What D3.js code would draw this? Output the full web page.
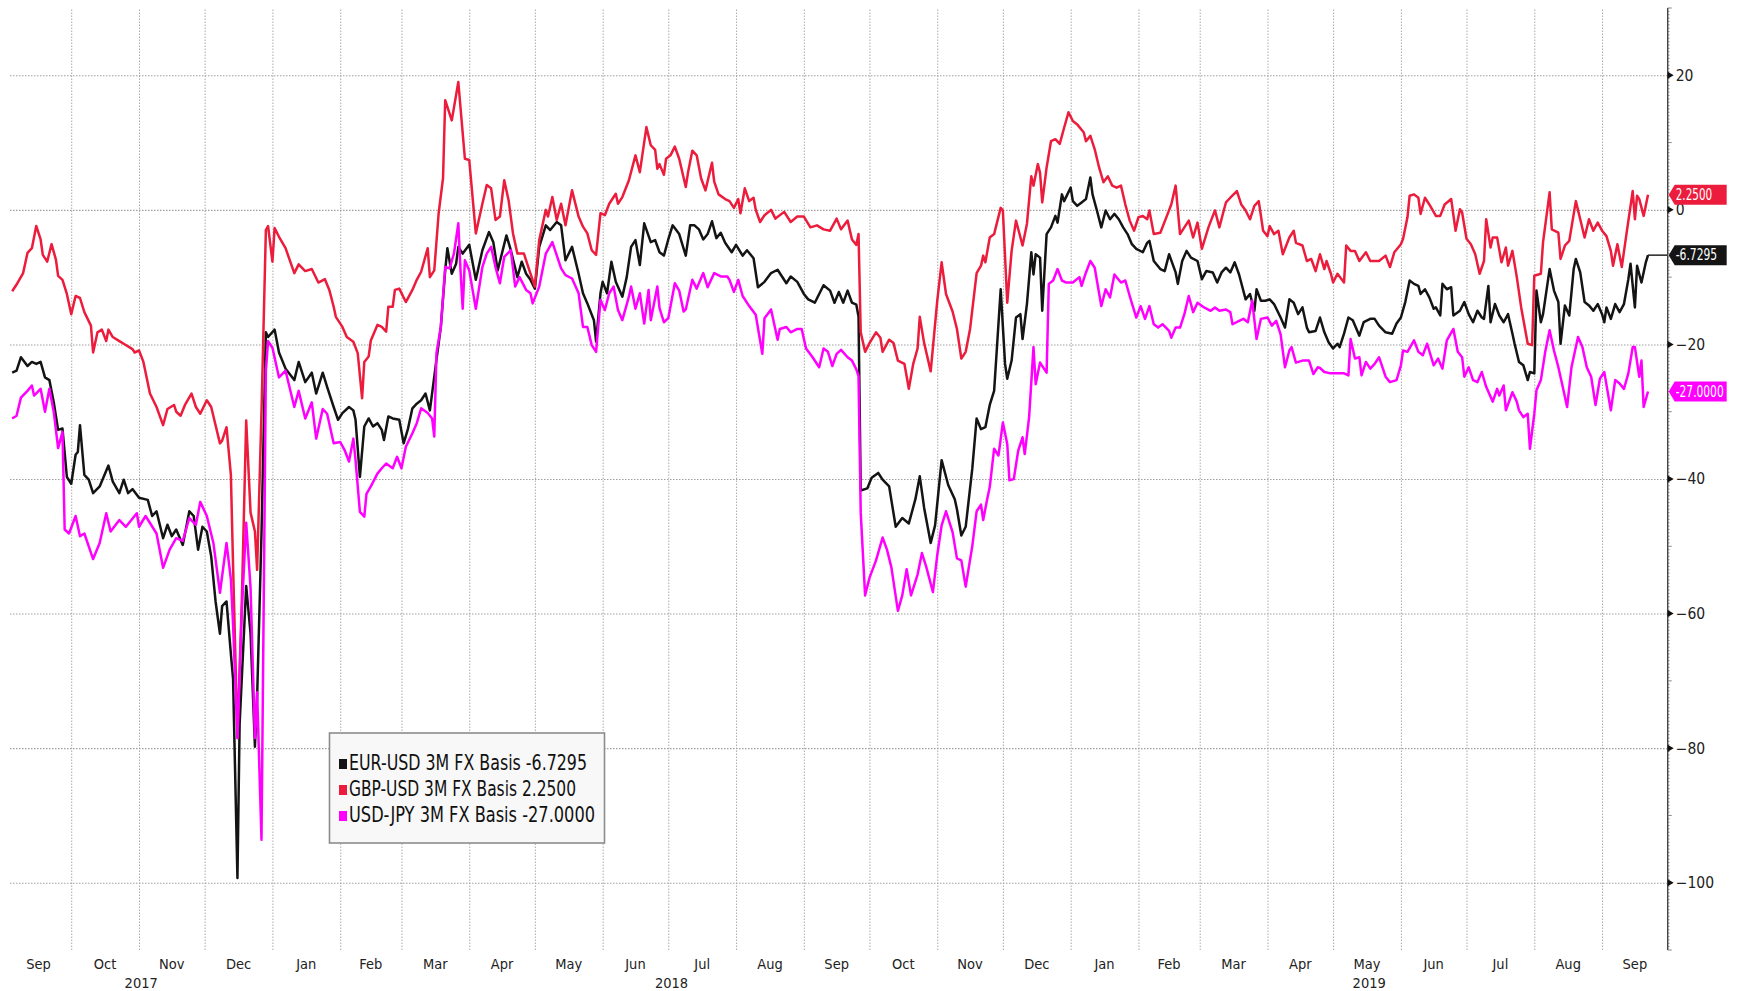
<!DOCTYPE html>
<html><head><meta charset="utf-8">
<script src="https://cdn.jsdelivr.net/npm/d3@7"></script>
<style>
html,body{margin:0;padding:0;background:#fff;}
svg{display:block;}
text{font-family:"Liberation Sans Narrow","DejaVu Sans Condensed","Arial Narrow","Roboto Condensed",sans-serif;}
</style></head><body>
<svg id="chart" width="1739" height="991"></svg>
<script>
// x values: days after startDate
const startDate = "2017-09-03";
const endDate = "2019-10-01";
const eurUsd = [[1,-24.2],[3,-23.9],[5,-21.9],[8,-23.2],[10,-22.6],[12,-22.9],[14,-22.6],[16,-24.9],[18,-25.3],[20,-28.6],[22,-32.7],[24,-32.5],[26,-39.7],[28,-40.7],[30,-36.4],[31,-36],[32,-32],[34,-39.4],[36,-40.1],[38,-42.1],[41,-41.1],[45,-38],[47,-40.4],[50,-42.1],[52,-40.1],[54,-42.1],[56,-41.5],[59,-42.8],[63,-43.1],[65,-45.5],[67,-44.8],[70,-48.8],[72,-46.8],[74,-48.5],[76,-47.5],[79,-49.8],[82,-44.8],[84,-45.5],[86,-50.5],[88,-47.1],[90,-47.8],[92,-51.5],[94,-58.2],[96,-63],[97,-58.9],[99,-58.2],[101,-66],[102,-69.7],[104,-99.3],[105,-76.4],[108,-55.9],[110,-63],[112,-79.8],[113,-72.4],[115,-48.1],[117,-18.2],[118,-18.9],[121,-17.8],[123,-21.2],[126,-23.6],[130,-25.3],[132,-22.6],[135,-25.6],[138,-24.2],[140,-27.3],[143,-24.2],[145,-26.3],
[148,-29.3],[150,-31.2],[152,-30.2],[155,-29.3],[157,-29.8],[158,-31.2],[160,-39.7],[162,-32.2],[164,-31],[166,-32.2],[168,-31.7],[170,-32.7],[171,-34.2],[173,-30.7],[175,-31],[178,-31.2],[180,-34.7],[182,-32.5],[184,-29.5],[186,-28.8],[188,-28.3],[190,-27.3],[192,-29.8],[195,-22.3],[197,-17.4],[199,-9],[200,-5.7],[202,-9.5],[204,-8],[205,-5.5],[207,-6.5],[210,-5.2],[213,-10.4],[216,-6],[219,-3.3],[221,-4.8],[223,-9],[227,-3.8],[229,-6],[232,-10],[234,-7.7],[236,-9.5],[238,-10.4],[240,-11.7],[242,-5.5],[245,-2.3],[247,-3],[250,-1.8],[252,-2.3],[254,-7.5],[257,-5.5],[260,-9.5],[262,-12.4],[264,-13.9],[267,-16.4],[268,-19.6],[270,-12.4],[271,-10.7],[273,-12.4],[275,-7.7],[277,-10.7],[280,-12.9],[282,-10],[284,-5.5],[286,-4.5],[288,-8.2],[290,-2],[293,-4.8],[295,-4.5],
[297,-6.3],[299,-6.8],[301,-4.4],[303,-2.3],[306,-3.6],[309,-6.8],[311,-2.3],[313,-2.3],[315,-2.9],[317,-4.4],[319,-3.6],[321,-1.7],[323,-4.2],[325,-3.4],[327,-4.9],[330,-6.3],[332,-5.2],[335,-6.8],[337,-6],[340,-7.2],[342,-11.5],[345,-10.7],[348,-9.4],[351,-8.9],[355,-10.9],[357,-9.9],[360,-10.7],[363,-12.5],[365,-13.3],[368,-13.8],[370,-12.5],[372,-11.2],[375,-12],[377,-13.8],[379,-12.2],[381,-13.8],[383,-12],[385,-13.8],[387,-14.1],[388,-15.9],[389,-41.7],[392,-41.4],[394,-39.8],[397,-39.1],[399,-40.1],[402,-41.1],[405,-47.1],[408,-45.8],[411,-46.6],[414,-43],[416,-39.6],[418,-44.3],[421,-49.5],[423,-46.9],[426,-37.2],[429,-40.9],[432,-43],[433,-44.5],[435,-48.4],[437,-47.1],[440,-38.5],[442,-31],[444,-32.6],[446,-32.3],
[448,-29],[450,-26.9],[451,-21.9],[453,-11.8],[455,-22.9],[456,-25.1],[458,-22.4],[460,-16],[462,-15.5],[463,-19.2],[465,-14],[467,-6.3],[468,-9.6],[469,-6.6],[471,-7.1],[472,-15],[474,-3.6],[476,-2.6],[478,-0.9],[479,-1.9],[481,2.3],[482,1.3],[485,3.3],[486,1.3],[488,0.6],[490,1.1],[492,1.6],[494,4.8],[495,2.3],[497,-0.1],[499,-2.6],[501,-0.1],[503,-1.4],[505,-0.6],[507,-1.4],[509,-2.6],[511,-3.6],[513,-5.1],[515,-5.8],[518,-6.3],[520,-4.9],[521,-4.6],[523,-7.6],[526,-8.8],[528,-9.1],[530,-6.6],[533,-9.3],[534,-11],[536,-7.6],[538,-6.1],[540,-7.1],[543,-7.6],[545,-10.3],[547,-9.1],[550,-9.3],[552,-10.8],[554,-9.3],[556,-8.6],[558,-9.3],[560,-7.8],[562,-9.6],[565,-13.3],[567,-12.5],[569,-15],[570,-11.8],[572,-13.5],[574,-13.5],[576,-13.3],[578,-14],[581,-16],[583,-17.5],[585,-13.3],[587,-13.8],[589,-15.5],[591,-14.5],[593,-17.5],[594,-18.2],[597,-18],[599,-16],
[601,-18.2],[603,-19.7],[605,-20.6],[607,-19.9],[608,-20.4],[610,-18.4],[612,-16],[614,-16.4],[617,-18.7],[619,-16.7],[622,-16.2],[624,-16.2],[626,-17.2],[629,-18.2],[632,-18.4],[634,-16.9],[636,-16],[638,-13.7],[640,-10.5],[642,-11],[644,-11.3],[645,-12.5],[647,-11.8],[649,-13],[651,-14.7],[652,-14.5],[654,-15.7],[655,-11],[657,-11.8],[659,-11.5],[660,-15.7],[663,-15],[665,-13.7],[667,-15.5],[669,-16.7],[671,-15],[673,-16],[674,-16.2],[676,-11.3],[677,-16.7],[679,-14],[681,-15.7],[683,-16.7],[685,-15.5],[687,-18.4],[688,-19.9],[690,-22.6],[692,-23.1],[694,-25.3],[695,-24.1],[697,-24.3],[698,-12],[700,-16.7],[701,-15.5],[704,-8.8],[706,-12],[708,-13.7],[709,-19.9],[711,-14.2],[713,-15.7],[715,-8.8],[716,-7.3],[718,-9.3],[720,-13.7],[722,-14.2],[724,-15],[726,-14],[728,-15.5],[729,-16.7],[730,-14.5],[732,-16.2],[734,-14],[736,-15.2],[738,-14],[740,-10.3],[741,-8],[743,-14.5],[744,-8.3],[746,-10.8],[748,-7.8],[749,-6.7295]];

const gbpUsd = [[1,-12.1],[3,-11.1],[6,-9.4],[8,-6.4],[10,-5.7],[12,-2.4],[14,-4.4],[15,-6.7],[17,-7.7],[19,-5.1],[21,-7.4],[22,-9.8],[24,-10.4],[26,-12.5],[28,-15.5],[30,-12.8],[32,-13.1],[34,-15.2],[37,-17.2],[38,-21.2],[40,-18.2],[42,-17.8],[44,-19.5],[45,-17.8],[47,-18.9],[50,-19.5],[52,-19.9],[56,-20.7],[57,-21.2],[59,-20.9],[61,-22.6],[64,-27.3],[67,-29.3],[70,-32],[72,-29.6],[75,-29],[76,-30],[78,-30.6],[80,-29],[83,-27.3],[85,-29.3],[87,-30.3],[90,-28.3],[92,-29.3],[94,-32],[96,-34.7],[97,-34.3],[99,-32.3],[101,-39.4],[102,-52.9],[104,-78.5],[106,-58.2],[108,-31.3],[110,-45],[112,-47.8],[113,-53.5],[115,-30],[117,-3],[118,-2.4],[120,-7.7],[121,-2.7],[123,-4],[126,-5.7],[130,-9.4],[132,-8.1],[135,-9.1],[138,-8.8],[141,-10.8],[144,-10.3],[146,-11.9],
[148,-14.4],[149,-15.9],[152,-17.4],[154,-18.9],[157,-19.6],[159,-21.3],[161,-28],[162,-22.6],[164,-21.8],[165,-19.4],[168,-17.1],[170,-17.4],[172,-18.1],[173,-14.4],[175,-14.4],[176,-11.9],[178,-11.7],[181,-13.7],[184,-11.9],[186,-10.4],[188,-9.2],[191,-5.7],[192,-10],[194,-9],[196,-0.5],[198,4.7],[199,16.3],[202,13.3],[205,19],[208,7.6],[210,7.4],[213,-3.5],[216,0.9],[218,3.7],[220,3.2],[222,-1.5],[224,-1],[226,4.4],[228,1.4],[230,-3.5],[232,-6.5],[235,-6.5],[237,-8.5],[240,-11.4],[242,-4.5],[245,0],[246,-1],[248,1.9],[250,-1.5],[252,0.9],[254,-2.3],[257,2.9],[260,-1],[262,-2.5],[264,-3.5],[266,-6],[268,-6.7],[270,-0.5],[272,-0.8],[274,0.9],[277,2.4],[278,0.9],[280,1.9],[283,4.4],[286,8.1],[288,5.6],[291,12.3],[293,9.6],[295,8.9],[296,6.1],
[297,6.8],[299,5.2],[300,7.6],[302,8.1],[304,9.4],[306,7.6],[309,3.4],[310,5.5],[312,8.8],[314,8.1],[316,4.7],[318,2.9],[321,7],[322,4.2],[324,2.3],[327,1.6],[329,1.3],[331,0.3],[333,1.6],[334,-0.5],[336,3.2],[338,1.3],[340,1.8],[341,0],[343,-1.8],[345,-0.8],[348,0],[350,-1.3],[354,-0.3],[357,-1.8],[360,-1],[363,-1],[366,-2.6],[369,-2.3],[372,-2.9],[375,-3.1],[378,-1.3],[380,-2.9],[383,-1.6],[385,-4.4],[387,-5.2],[388,-3.6],[389,-18.2],[391,-21.1],[393,-19.8],[396,-18.2],[398,-19],[399,-21.1],[402,-19.3],[404,-19.8],[406,-22.4],[409,-22.9],[411,-26.6],[413,-22.9],[415,-20.6],[416,-15.9],[418,-19.8],[421,-24],[424,-13.5],[426,-7.8],[428,-12.5],[431,-15.1],[433,-17.7],[435,-22.1],[437,-21.1],[439,-17.7],[442,-9.4],[444,-8.3],[445,-6.8],[446,-7.8],
[448,-4.1],[450,-3.6],[453,0.3],[454,-0.1],[456,-13.8],[458,-6.1],[460,-1.6],[463,-5.3],[465,-2.1],[467,5],[468,3.6],[470,6.8],[471,5.5],[472,1.1],[474,6.3],[476,10.2],[478,10.5],[480,9.8],[482,12.2],[484,14.5],[486,13.2],[488,12.7],[491,11.5],[492,10.2],[494,11],[496,9],[498,6.3],[500,4.1],[502,5],[504,3.6],[506,3.3],[508,3.6],[510,0.8],[512,-1.6],[514,-3.1],[516,-1.1],[518,-0.9],[520,-1.4],[521,-0.1],[523,-3.6],[526,-3.4],[529,-0.9],[531,0.8],[533,3.6],[535,-3.6],[537,-2.6],[539,-1.6],[541,-4.1],[543,-1.9],[545,-5.8],[548,-2.6],[550,-0.9],[551,-0.1],[553,-2.6],[555,-0.1],[556,1.1],[558,1.8],[561,2.8],[563,0.8],[565,-0.1],[567,-1.4],[569,0.6],[571,1.3],[573,-3.1],[575,-3.9],[576,-2.4],[578,-3.6],[580,-3.1],[582,-6.6],[585,-4.1],[587,-3.1],[588,-4.9],[591,-5.3],[593,-7.6],[595,-7.3],[597,-9.1],
[599,-6.6],[601,-8.8],[602,-7.6],[604,-9.5],[605,-10.8],[607,-9.5],[610,-10.8],[611,-5.3],[613,-6.1],[615,-6.1],[617,-7.6],[620,-6.3],[622,-7.6],[624,-7.6],[626,-7.6],[629,-6.8],[631,-8.5],[633,-6.3],[636,-5.1],[637,-4.3],[639,-1.1],[640,2.1],[642,2.3],[644,1.8],[645,-0.6],[647,1.8],[649,0.8],[652,-0.9],[654,-0.9],[656,0.8],[659,1.6],[661,-3.1],[663,0.1],[664,-0.4],[666,-4.3],[668,-5.1],[670,-6.6],[672,-9.5],[674,-7.6],[675,-1.4],[677,-5.6],[678,-4.1],[680,-4.1],[682,-7.8],[684,-5.6],[685,-8.3],[687,-6.1],[689,-10],[691,-14.5],[694,-19.9],[696,-20.1],[697,-9.8],[700,-9.5],[701,-4.8],[704,2.6],[705,-2.9],[708,-3.4],[709,-7.3],[711,-5.3],[713,-4.6],[716,1.3],[718,-1.4],[720,-4.1],[722,-1.4],[724,-3.1],[726,-1.9],[728,-3.1],[730,-3.9],[732,-6.1],[733,-8.3],[735,-5.1],[737,-8.5],[739,-3.9],[742,2.8],[743,-1.4],[744,2.1],[745,1.6],[747,-0.9],[749,2.25]];

const usdJpy = [[1,-31],[3,-30.6],[5,-27.9],[8,-26.9],[10,-26.1],[11,-27.6],[14,-26.6],[16,-30],[18,-26.6],[20,-30],[22,-35.4],[24,-33],[25,-47.5],[27,-48.1],[30,-45.5],[32,-48.5],[34,-48.1],[38,-51.9],[41,-49.5],[44,-45.1],[46,-47.8],[50,-46.1],[53,-47.1],[58,-45.1],[59,-47.1],[62,-45.5],[67,-48.1],[70,-53.2],[73,-50.5],[76,-48.8],[79,-49.2],[82,-45.8],[85,-46.8],[87,-43.4],[90,-45.5],[93,-49.5],[96,-56.9],[99,-49.5],[101,-54.9],[102,-61.6],[104,-78.5],[106,-59.6],[108,-46.5],[110,-56.2],[112,-78.5],[113,-71.7],[115,-93.6],[117,-23.9],[118,-19.5],[120,-20.5],[123,-24.9],[126,-23.9],[130,-29.3],[132,-26.9],[135,-31],[138,-28.6],[140,-34],[143,-29.6],[145,-30.3],
[148,-34.7],[151,-34.5],[153,-35.7],[155,-37.4],[157,-34],[158,-37.2],[160,-44.9],[162,-45.6],[163,-42.2],[165,-41.1],[168,-39.2],[170,-38.4],[172,-37.7],[175,-38.4],[177,-36.7],[179,-38.4],[181,-35.2],[184,-33.2],[186,-31.7],[188,-29.5],[191,-30.2],[193,-31],[194,-33.7],[195,-21.3],[197,-17.4],[199,-8.5],[201,-8.7],[203,-6.5],[205,-2],[206,-9],[207,-14.7],[208,-7.5],[210,-9],[213,-14.7],[216,-8.5],[218,-6.5],[220,-5.5],[222,-8.5],[224,-10.9],[226,-7],[229,-6],[231,-11.4],[233,-10],[236,-11.9],[238,-12.4],[239,-13.9],[242,-11.4],[245,-6.5],[248,-4.8],[252,-8.7],[254,-9.7],[257,-10.2],[260,-12.4],[262,-17.4],[264,-17.4],[266,-20.1],[268,-21.1],[270,-13.4],[272,-14.9],[274,-12.4],[276,-11.4],[278,-14.9],[280,-16.4],[283,-12.9],[284,-11.4],[286,-14.7],[288,-12.4],[290,-16.9],[292,-11.9],[293,-16.4],[296,-11.4],
[297,-14.6],[299,-16.7],[301,-16.1],[304,-10.9],[306,-12],[308,-15.1],[309,-14.8],[312,-10.4],[314,-11.7],[317,-9.4],[319,-11.5],[322,-9.4],[325,-9.9],[328,-9.9],[329,-10.4],[331,-12.2],[333,-10.4],[335,-12.8],[338,-14.3],[341,-15.6],[344,-21.4],[345,-16.1],[348,-14.8],[351,-19.3],[352,-17.7],[355,-17.4],[357,-18.2],[360,-17.7],[362,-17.7],[364,-20.6],[367,-21.9],[370,-23.4],[372,-20.6],[374,-21.1],[376,-23.2],[378,-21.4],[380,-20.8],[383,-21.9],[385,-22.4],[387,-23.7],[388,-24.7],[389,-45],[391,-57.3],[393,-54.7],[396,-52.1],[399,-48.7],[401,-50.5],[403,-53.1],[406,-59.6],[408,-57.3],[410,-53.4],[412,-57.3],[415,-54.2],[417,-51],[419,-53.1],[422,-56.8],[424,-51.3],[426,-46.9],[428,-44.8],[431,-47.9],[433,-51.8],[435,-52.1],[437,-56],[440,-50],[442,-44.8],[444,-43.8],[445,-46.1],[447,-42.7],
[448,-41.2],[450,-35.5],[452,-36.5],[454,-31.6],[456,-34.8],[457,-40.2],[459,-40],[461,-35.8],[463,-33.8],[464,-36.3],[466,-30.8],[468,-20.4],[469,-25.9],[471,-22.7],[474,-24.2],[475,-11],[477,-10.5],[479,-8.8],[481,-10.5],[483,-10.8],[486,-10.8],[489,-10],[490,-11.3],[492,-9.3],[494,-7.6],[496,-8.6],[497,-10.5],[499,-14.3],[501,-11.8],[503,-13],[505,-9.6],[508,-10.8],[510,-10.5],[512,-12.8],[515,-16],[517,-14.3],[519,-16.2],[521,-14.3],[523,-17],[525,-17.5],[527,-17],[530,-18],[531,-19],[533,-17.5],[535,-17.5],[537,-15.5],[539,-12.8],[541,-15.2],[543,-13.8],[546,-14.5],[549,-15],[551,-14.5],[553,-15],[556,-14.8],[558,-15.2],[559,-17],[562,-16.5],[564,-16.2],[566,-16.7],[568,-13.5],[570,-19.2],[572,-16.2],[575,-16],[577,-17.2],[579,-16.5],[581,-18.5],[583,-23.4],[585,-20.9],[586,-20.4],[588,-22.7],[591,-22.4],[594,-22.4],[596,-24.4],[598,-23.4],[599,-23.5],
[601,-24.1],[604,-24.3],[607,-24.3],[610,-24.3],[612,-24.6],[613,-19.2],[615,-22.1],[617,-21.9],[618,-24.6],[620,-22.6],[622,-23.6],[624,-22.9],[626,-21.9],[629,-24.8],[631,-25.6],[634,-25.3],[636,-23.1],[637,-20.9],[639,-21.1],[642,-19.4],[644,-21.1],[646,-21.6],[648,-19.9],[651,-23.1],[653,-22.1],[655,-23.6],[657,-19.4],[660,-17.7],[662,-21.1],[664,-21.9],[665,-24.8],[667,-23.4],[669,-25.3],[671,-25.6],[673,-24.1],[675,-26.3],[678,-28.5],[680,-26.6],[681,-27.6],[683,-26.1],[684,-29.8],[687,-27.1],[689,-28.5],[690,-29.8],[692,-30.8],[694,-30.3],[695,-35.5],[697,-30.3],[698,-26.8],[700,-25.3],[702,-21.1],[704,-17.9],[706,-20.9],[708,-23.4],[710,-26.3],[712,-29.3],[714,-23.4],[717,-18.9],[719,-20.4],[721,-23.4],[723,-24.8],[725,-29],[727,-25.1],[729,-24.1],[732,-29.8],[734,-25.3],[736,-25.8],[738,-26.6],[740,-24.3],[742,-20.4],[743,-20.4],[745,-24.8],[746,-22.4],[747,-29.3],[749,-27]];

const seriesNames = ["EUR-USD 3M FX Basis", "GBP-USD 3M FX Basis", "USD-JPY 3M FX Basis"];
const lastLabels = ["-6.7295", "2.2500", "-27.0000"];
const seriesColors = ["#141414", "#ec1c3c", "#ff00ff"];
const yTicks = [20, 0, -20, -40, -60, -80, -100];

// ---------- layout ----------
const svg = d3.select("#chart");
const plotLeft = 10, axisX = 1667.7, plotTop = 8, plotBottom = 950;
const parse = d3.utcParse("%Y-%m-%d");
const t0 = parse(startDate), t1 = parse(endDate);
const toDate = d => d3.utcDay.offset(t0, d);
const x = d3.scaleUtc().domain([t0, t1]).range([plotLeft, axisX]);
const y = d3.scaleLinear().domain([-110, 30]).range([plotBottom, plotTop]);

// vertical gridlines at month starts
const monthStarts = d3.utcMonth.range(d3.utcMonth.ceil(t0), t1);
const gx = svg.append("g").attr("transform", `translate(0,${plotBottom})`)
  .call(d3.axisBottom(x).tickValues(monthStarts).tickSize(-(plotBottom - plotTop)).tickFormat(""));
gx.select(".domain").remove();
gx.selectAll("line").attr("stroke", "#aaaaaa").attr("stroke-width", 1).attr("stroke-dasharray", "1.5,1.5");

// horizontal gridlines
const gy = svg.append("g").attr("transform", `translate(${plotLeft},0)`)
  .call(d3.axisRight(y).tickValues(yTicks).tickSize(axisX - plotLeft).tickFormat(""));
gy.select(".domain").remove();
gy.selectAll("line").attr("stroke", "#a0a0a0").attr("stroke-width", 1.1).attr("stroke-dasharray", "1.5,1.5");

// month labels (centred in each month) and year labels
const allMonths = d3.utcMonth.range(d3.utcMonth.floor(t0), t1);
svg.append("g").selectAll("text").data(allMonths).join("text")
  .attr("x", m => x(new Date((m.getTime() + d3.utcMonth.offset(m, 1).getTime()) / 2)))
  .attr("y", 969).attr("text-anchor", "middle")
  .attr("font-size", 14.5).attr("fill", "#222")
  .text(d3.utcFormat("%b"));
const years = d3.utcYear.range(d3.utcYear.floor(t0), t1);
svg.append("g").selectAll("text").data(years).join("text")
  .attr("x", yr => {
    const a = yr < t0 ? t0 : yr;
    const nb = d3.utcYear.offset(yr, 1);
    const b = nb > t1 ? t1 : nb;
    return (x(a) + x(b)) / 2;
  })
  .attr("y", 988).attr("text-anchor", "middle")
  .attr("font-size", 14.5).attr("fill", "#222")
  .text(d3.utcFormat("%Y"));

// series lines
const line = d3.line().x(d => x(toDate(d[0]))).y(d => y(d[1]));
const allSeries = [eurUsd, gbpUsd, usdJpy];
allSeries.forEach((s, i) => {
  svg.append("path").datum(s).attr("d", line)
    .attr("fill", "none").attr("stroke", seriesColors[i])
    .attr("stroke-width", 2.5).attr("stroke-linejoin", "round");
});
// last price line for EUR-USD
const lastEur = eurUsd[eurUsd.length - 1];
svg.append("line")
  .attr("x1", x(toDate(lastEur[0]))).attr("x2", axisX)
  .attr("y1", y(lastEur[1])).attr("y2", y(lastEur[1]))
  .attr("stroke", seriesColors[0]).attr("stroke-width", 1.4);

// right axis
const ax = svg.append("g");
ax.append("line").attr("x1", axisX).attr("x2", axisX).attr("y1", plotTop).attr("y2", plotBottom)
  .attr("stroke", "#444").attr("stroke-width", 1.4);
const minor = d3.range(-110, 30.01, 0.5);
ax.selectAll("line.minor").data(minor).join("line").attr("class", "minor")
  .attr("x1", axisX).attr("x2", v => axisX + (v % 10 === 0 ? 4 : 1.8))
  .attr("y1", v => y(v)).attr("y2", v => y(v))
  .attr("stroke", "#666").attr("stroke-width", 0.8);
ax.selectAll("path.arrow").data(yTicks).join("path").attr("class", "arrow")
  .attr("d", v => `M${axisX},${y(v) - 3.5}L${axisX + 6},${y(v)}L${axisX},${y(v) + 3.5}Z`)
  .attr("fill", "#111");
const yAxis = svg.append("g").attr("transform", `translate(${axisX},0)`)
  .call(d3.axisRight(y).tickValues(yTicks).tickSize(0).tickPadding(8));
yAxis.select(".domain").remove();
yAxis.selectAll("text").attr("font-size", 15.5).attr("fill", "#222")
  .style("font-family", '"Liberation Sans Narrow","DejaVu Sans Condensed",sans-serif');

// end-value tags
const tagTextW = [41.5, 36.5, 48];
allSeries.forEach((s, i) => {
  const v = s[s.length - 1][1];
  const yc = y(v);
  const g = svg.append("g");
  g.append("path")
    .attr("d", `M${axisX + 1},${yc}L${axisX + 7},${yc - 10}L${axisX + 59},${yc - 10}L${axisX + 59},${yc + 10}L${axisX + 7},${yc + 10}Z`)
    .attr("fill", seriesColors[i]);
  g.append("text").attr("x", axisX + 8).attr("y", yc + 5.2)
    .attr("font-size", 15).attr("fill", "#fff")
    .attr("textLength", tagTextW[i]).attr("lengthAdjust", "spacingAndGlyphs")
    .text(lastLabels[i]);
});

// legend
const lg = svg.append("g");
lg.append("rect").attr("x", 329.5).attr("y", 733).attr("width", 275).attr("height", 110)
  .attr("fill", "#f8f8f8").attr("stroke", "#8c8c8c").attr("stroke-width", 1.6);
const legendW = [238, 227, 246];
seriesNames.forEach((n, i) => {
  const base = 770 + i * 26;
  lg.append("rect").attr("x", 339).attr("y", base - 11).attr("width", 8).attr("height", 10)
    .attr("fill", seriesColors[i]);
  lg.append("text").attr("x", 349).attr("y", base)
    .attr("font-size", 22).attr("fill", "#111")
    .attr("textLength", legendW[i]).attr("lengthAdjust", "spacingAndGlyphs")
    .text(`${n} ${lastLabels[i]}`);
});
</script>
</body></html>
